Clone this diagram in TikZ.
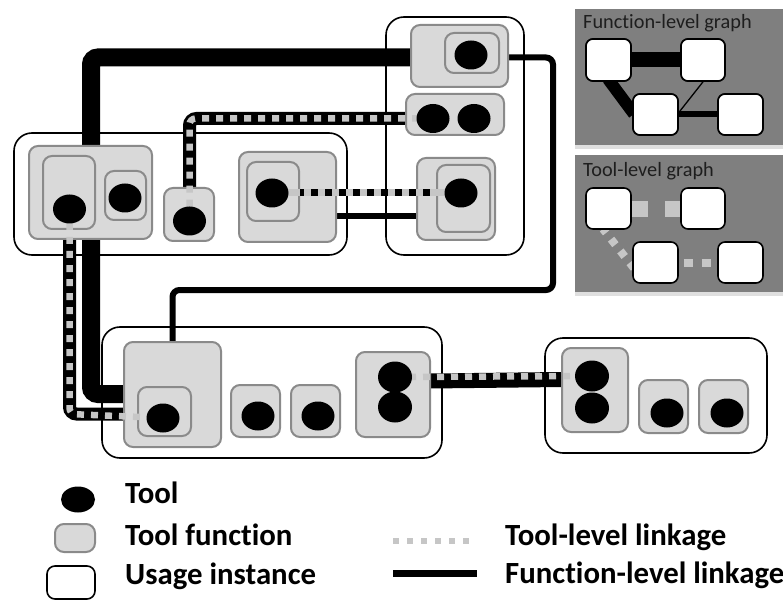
\documentclass[tikz,border=0pt]{standalone}
\usepackage{fontspec}
\setmainfont{Carlito}[Ligatures=NoCommon]
\usetikzlibrary{shapes.geometric,shadows}
\definecolor{fgfill}{HTML}{D9D9D9}
\definecolor{fgborder}{HTML}{8A8A8A}
\definecolor{tgray}{HTML}{C6C6C6}
\definecolor{panelgray}{HTML}{7F7F7F}
\definecolor{paneltext}{HTML}{1E1E1E}
\newcommand\mkbox[6]{\node[#2, minimum width={#5-#3}, minimum height={#6-#4}] (#1) at ({(#3+#5)/2},{(#4+#6)/2}) {};}
\begin{document}
\begin{tikzpicture}[x=1pt,y=-1pt,
  usage/.style={draw=black, line width=1.6pt, rounded corners=18pt, fill=white, inner sep=0pt},
  func/.style={draw=fgborder, line width=2pt, fill=fgfill, rounded corners=9pt, inner sep=0pt},
  tool/.style={ellipse, fill=black, inner sep=0pt, minimum width=33pt, minimum height=29pt},
  flink/.style={draw=black, rounded corners=7pt},
  tlink/.style={draw=tgray, dash pattern=on 7pt off 7pt, line width=6.5pt},
  gnode/.style={draw=black, line width=1.6pt, fill=white, rounded corners=7pt, inner sep=0pt},
  panel/.style={fill=panelgray, drop shadow={shadow xshift=0pt, shadow yshift=-4pt, opacity=0.25}},
  ptitle/.style={anchor=base west, inner sep=0pt, text=paneltext, font=\fontsize{20.3}{23}\selectfont},
  legtext/.style={anchor=base west, inner sep=0pt, font=\fontsize{30.8}{35}\selectfont\bfseries},
]
\useasboundingbox (0,0) rectangle (783,601);

% ---------- panels ----------
\node[panel, minimum width=208, minimum height=136, inner sep=0pt] (P1) at (679,77) {};
\node[panel, minimum width=208, minimum height=137, inner sep=0pt] (P2) at (679,223.5) {};
\node[ptitle] (t1) at (583,29) {Function-level graph};
\node[ptitle] (t2) at (583,177) {Tool-level graph};

% function-level graph
\coordinate (d1) at (608,79);
\coordinate (d2) at (634,114);
\draw[line width=12pt] (d1) -- (d2);
\mkbox{ga}{gnode}{586}{39}{631}{81}
\mkbox{gb}{gnode}{681}{39}{725}{81}
\mkbox{gc}{gnode}{633}{94}{678}{135}
\mkbox{gd}{gnode}{718}{94}{763}{135}
\draw[line width=15pt] (ga.east) -- (gb.west);
\draw[line width=6pt] (gc.east) -- (gd.west);
\draw[line width=1.3pt] (gb.south) -- ([yshift=2pt]gc.east);
\node[gnode, minimum width=45, minimum height=42] at (ga) {};
\node[gnode, minimum width=44, minimum height=42] at (gb) {};
\node[gnode, minimum width=45, minimum height=41] at (gc) {};
\node[gnode, minimum width=45, minimum height=41] at (gd) {};

% tool-level graph
\coordinate (h1) at (603,229);
\coordinate (h2) at (637,272);
\draw[tgray, line width=8pt, dash pattern=on 7pt off 8pt, dash phase=2pt] (h1) -- (h2);
\mkbox{ha}{gnode}{586}{188}{631}{229}
\mkbox{hb}{gnode}{681}{188}{725}{229}
\mkbox{hc}{gnode}{633}{242}{678}{283}
\mkbox{hd}{gnode}{718}{242}{763}{283}
\draw[tgray, line width=16pt, dash pattern=on 16pt off 17pt] ([yshift=-1pt]ha.east) -- ([yshift=-1pt]hb.west);
\draw[tgray, line width=7pt, dash pattern=on 9pt off 9pt, dash phase=13pt] ([yshift=-0.5pt]hc.east) -- ([yshift=-0.5pt]hd.west);

% ---------- usage instances ----------
\mkbox{U1}{usage}{14}{133}{347}{255}
\mkbox{U2}{usage}{386}{17}{524}{255}
\mkbox{U3}{usage}{102}{327}{442}{458}
\mkbox{U4}{usage}{545}{338}{767}{453}

% ---------- tools (positions) ----------
\coordinate (e1) at (69.5,209);
\coordinate (e1b) at (125,198);
\coordinate (e2) at (189.5,221);
\coordinate (e3) at (272,193);
\coordinate (e4) at (471,55);
\coordinate (e5a) at (433,118.5);
\coordinate (e5b) at (474,118.5);
\coordinate (e6) at (461,193);
\coordinate (e7) at (163,418);
\coordinate (e8) at (258,416);
\coordinate (e9) at (318,416);
\coordinate (e10a) at (395,377);
\coordinate (e10b) at (395,407);
\coordinate (e11a) at (592,376);
\coordinate (e11b) at (592,408);
\coordinate (e12) at (667,413);
\coordinate (e13) at (727,413);

% ---------- function boxes (positions only) ----------
\mkbox{F1}{inner sep=0pt}{29}{146}{152}{239}
\mkbox{F2}{inner sep=0pt}{164}{188}{214}{241}
\mkbox{F3}{inner sep=0pt}{239}{152}{336}{242}
\mkbox{F4}{inner sep=0pt}{411}{25}{508}{87}
\mkbox{F5}{inner sep=0pt}{406}{94}{504}{135}
\mkbox{F6}{inner sep=0pt}{417}{158}{495}{240}
\mkbox{F7}{inner sep=0pt}{124}{342}{221}{447}
\mkbox{F10}{inner sep=0pt}{356}{352}{430}{437}
\mkbox{F11}{inner sep=0pt}{562}{348}{628}{432}

% ---------- function-level links ----------
\coordinate (c2) at (553,290);
\coordinate (c6) at (69.5,414);
\coordinate (c7) at (91,394);
\coordinate (c5) at (336,216);
\coordinate (c8a) at (430,381);
\coordinate (c8b) at (562,379.5);
\coordinate (c1) at (91,57.5);
\draw[flink, line width=18pt] (c1 |- F1.north) |- (F4.west |- c1);
\draw[flink, line width=6pt] (F4.east |- c1) -| (c2) -| (F7.north);
\draw[flink, line width=13pt] (F5.west |- e5a) -| (F2.north -| e2);
\draw[flink, line width=6pt] (c5) -- (F6.west |- c5);
\draw[flink, line width=13pt] (c6 |- F1.south) |- (F7.west |- c6);
\draw[flink, line width=18pt] (c7 |- F1.south) |- (F7.west |- c7);
\draw[flink, line width=15pt] (c8a) -- (c8b);

% ---------- function boxes (drawn) ----------
\mkbox{f1}{func}{29}{146}{152}{239}
\mkbox{f1a}{func}{43}{156}{95}{229}
\mkbox{f1b}{func}{105}{171}{146}{220}
\mkbox{f2}{func}{164}{188}{214}{241}
\mkbox{f3}{func}{239}{152}{336}{242}
\mkbox{f3a}{func}{247}{162}{299}{221}
\mkbox{f4}{func}{411}{25}{508}{87}
\mkbox{f4a}{func}{445}{33}{499}{73}
\mkbox{f5}{func}{406}{94}{504}{135}
\mkbox{f6}{func}{417}{158}{495}{240}
\mkbox{f6a}{func}{437}{165}{490}{232}
\mkbox{f7}{func}{124}{342}{221}{447}
\mkbox{f7a}{func}{138}{387}{191}{436}
\mkbox{f8}{func}{231}{385}{280}{437}
\mkbox{f9}{func}{291}{385}{340}{437}
\mkbox{f10}{func}{356}{352}{430}{437}
\mkbox{f11}{func}{562}{348}{628}{432}
\mkbox{f12}{func}{639}{380}{688}{433}
\mkbox{f13}{func}{699}{380}{748}{433}

% ---------- tool-level links ----------
\draw[tlink, rounded corners=6pt] (e5a) -| (e2);
\draw[tgray, line width=7pt] (e3) -- (e6);
\draw[line width=7pt, dash pattern=on 7pt off 7pt, dash phase=3pt] (f3a.east |- e3) -- (f6a.west |- e3);
\draw[tlink, rounded corners=6pt] (e1) -- (c6) -- (e7);
\draw[tlink] (e10a) -- (e11a);

% ---------- tools ----------
\foreach \e in {e1,e1b,e2,e3,e4,e5a,e5b,e6,e7,e8,e9,e12,e13}
  \node[tool] (T\e) at (\e) {};
\foreach \e in {e10a,e10b,e11a,e11b}
  \node[tool, minimum width=34pt, minimum height=31pt] (T\e) at (\e) {};

% ---------- legend ----------
\node[tool, minimum width=34pt, minimum height=26pt] (L1) at (78,499.5) {};
\mkbox{L2}{func}{55}{524}{95}{552}
\mkbox{L3}{usage, rounded corners=8pt}{47}{566}{95}{599}
\node[legtext] (LT1) at (125,503) {Tool};
\node[legtext] (LT2) at (125,545) {Tool function};
\node[legtext] (LT3) at (125,584) {Usage instance};
\coordinate (L4a) at (393,541);
\coordinate (L4b) at (474,541);
\coordinate (L5a) at (393,573);
\coordinate (L5b) at (477,573);
\draw[tgray, line width=6pt, dash pattern=on 6pt off 8pt] (L4a) -- (L4b);
\draw[line width=7pt] (L5a) -- (L5b);
\node[legtext] (LT4) at (505,545) {Tool-level linkage};
\node[legtext] (LT5) at (505,583) {Function-level linkage};
\end{tikzpicture}
\end{document}
